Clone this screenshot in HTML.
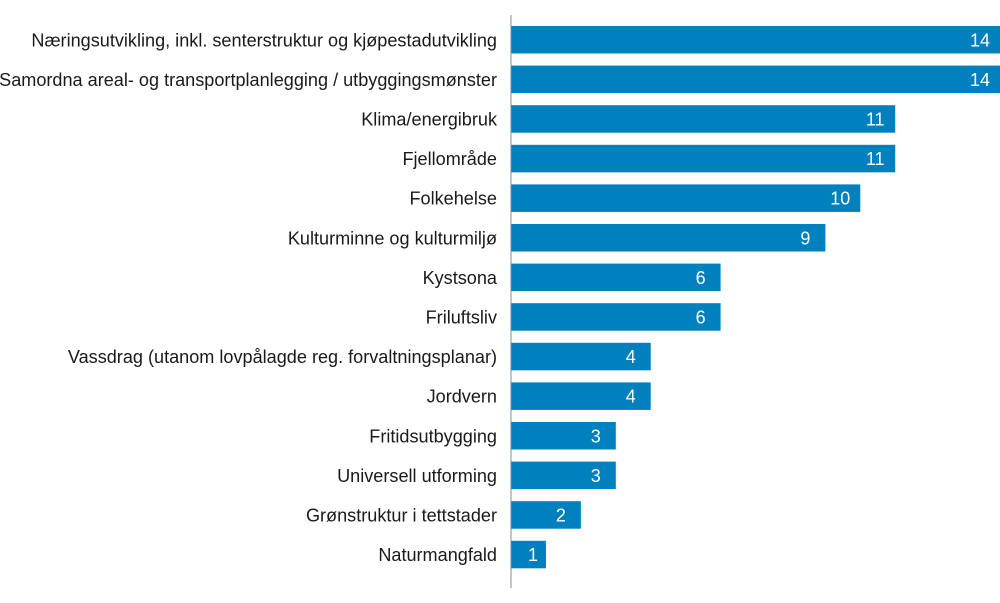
<!DOCTYPE html>
<html><head><meta charset="utf-8"><style>
html,body{margin:0;padding:0;background:#fff;}
svg{display:block;font-family:"Liberation Sans",Arial,sans-serif;}
</style></head><body>
<svg id="chart" width="1000" height="603" viewBox="0 0 1000 603"></svg>
<script>
const categories = ["Næringsutvikling, inkl. senterstruktur og kjøpestadutvikling","Samordna areal- og transportplanlegging / utbyggingsmønster","Klima/energibruk","Fjellområde","Folkehelse","Kulturminne og kulturmiljø","Kystsona","Friluftsliv","Vassdrag (utanom lovpålagde reg. forvaltningsplanar)","Jordvern","Fritidsutbygging","Universell utforming","Grønstruktur i tettstader","Naturmangfald"];
const values = [14,14,11,11,10,9,6,6,4,4,3,3,2,1];
const valueLabels = ["14","14","11","11","10","9","6","6","4","4","3","3","2","1"];

const NS="http://www.w3.org/2000/svg";
const svg=document.getElementById('chart');
const x0=511, unit=34.93, top0=26, pitch=39.6, bh=27.5;
function xScale(v){return x0+v*unit;}
function yScale(i){return top0+i*pitch;}
function mk(t,a){const e=document.createElementNS(NS,t);for(const k in a)e.setAttribute(k,a[k]);svg.appendChild(e);return e;}
categories.forEach((c,i)=>{
  const y=yScale(i);
  const end=xScale(values[i]);
  const r=mk('rect',{x:x0,y:y,width:end-x0,height:bh,fill:'#0080bc'});
  
  
  const t=mk('text',{x:497,y:y+bh/2+6.5,'text-anchor':'end','font-size':18.1,fill:'#1a1a1a'});
  t.textContent=c;
  
  
  const vx=Math.max(Math.min(end-20, end-12), x0+22);
  const v=mk('text',{x:Math.min(vx,end-12),y:y+bh/2+6.5,'text-anchor':'middle','font-size':18,fill:'#fff'});
  v.textContent=valueLabels[i];
  
  
});
const ax=mk('line',{x1:x0,y1:15,x2:x0,y2:588,stroke:'#888','stroke-width':1});


</script>
</body></html>
